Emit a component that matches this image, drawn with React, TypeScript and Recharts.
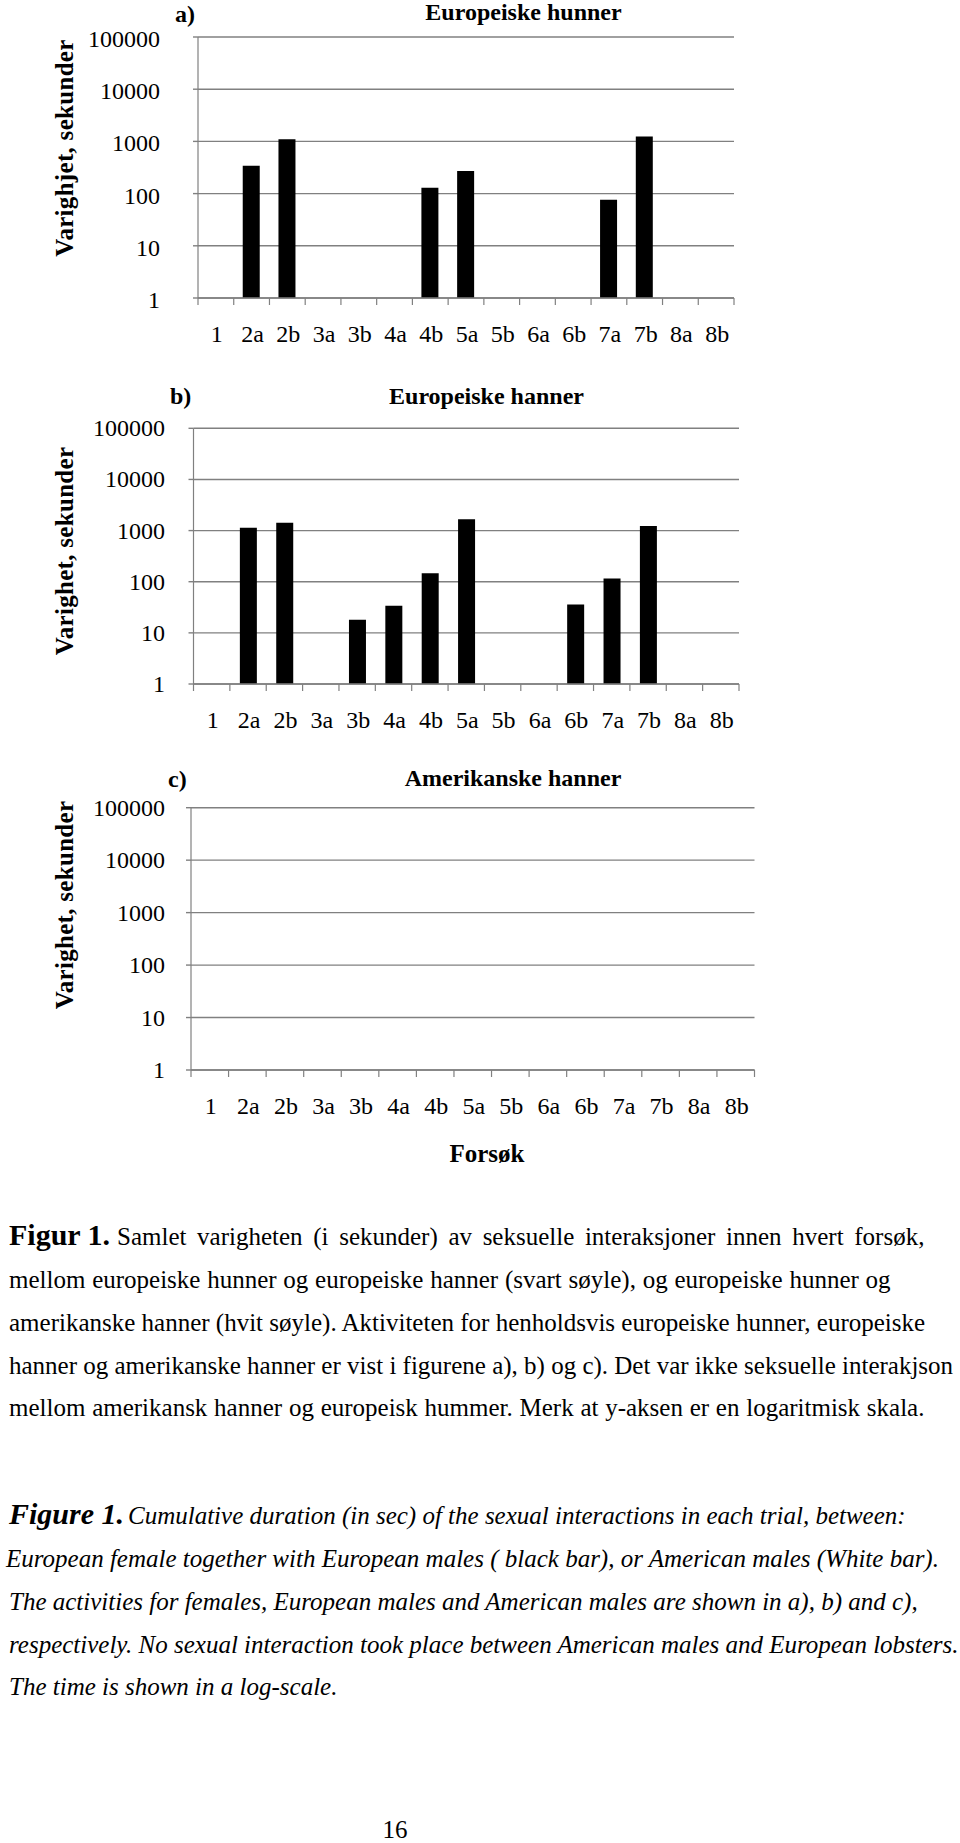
import React from 'react';
import { BarChart, Bar, XAxis, YAxis, CartesianGrid } from 'recharts';

const trials = ['1', '2a', '2b', '3a', '3b', '4a', '4b', '5a', '5b', '6a', '6b', '7a', '7b', '8a', '8b'];
const europeanFemales: (number | null)[] = [null, 340, 1100, null, null, null, 130, 270, null, null, null, 76, 1240, null, null];
const europeanMales: (number | null)[] = [null, 1140, 1430, null, 18, 34, 146, 1660, null, null, 36, 115, 1230, null, null];
const americanMales: (number | null)[] = [null, null, null, null, null, null, null, null, null, null, null, null, null, null, null];
const yTicks = [1, 10, 100, 1000, 10000, 100000];

const FONT = '"Liberation Serif", "Times New Roman", serif';
const GRID = '#808080';

type Panel = {
  values: (number | null)[];
  top: number;
  height: number;
  plotLeft: number;
  plotRight: number;
  plotTop: number;
  plotBottom: number;
  yGap: number;
  yDy: number;
};

const panels: Panel[] = [
  { values: europeanFemales, top: 0, height: 360, plotLeft: 198, plotRight: 734, plotTop: 37, plotBottom: 298, yGap: 38, yDy: 10 },
  { values: europeanMales, top: 370, height: 370, plotLeft: 193.5, plotRight: 739, plotTop: 58.3, plotBottom: 314, yGap: 28.5, yDy: 8 },
  { values: americanMales, top: 750, height: 400, plotLeft: 191, plotRight: 754.5, plotTop: 57.7, plotBottom: 320, yGap: 26, yDy: 8 },
];

function makeXTick(bw: number, n: number) {
  return (props: any) => {
    const { x, y, payload, index } = props;
    const left = x - bw / 2;
    return (
      <g>
        <line x1={left} y1={y} x2={left} y2={y + 7} stroke={GRID} strokeWidth={1.2} />
        {index === n - 1 ? <line x1={x + bw / 2} y1={y} x2={x + bw / 2} y2={y + 7} stroke={GRID} strokeWidth={1.2} /> : null}
        <text x={x + 1} y={y + 44} textAnchor="middle" fontFamily={FONT} fontSize={24} fill="#000">
          {payload.value}
        </text>
      </g>
    );
  };
}

function makeYTick(dy: number) {
  return (props: any) => {
    const { x, y, payload } = props;
    return (
      <text x={x} y={y + dy} textAnchor="end" fontFamily={FONT} fontSize={24} fill="#000">
        {payload.value}
      </text>
    );
  };
}

function PanelChart({ p }: { p: Panel }) {
  const data = trials.map((t, i) => ({ trial: t, value: p.values[i] }));
  const xAxisHeight = p.height - p.plotBottom;
  const bw = (p.plotRight - p.plotLeft) / trials.length;
  return (
    <div style={{ position: 'absolute', left: 0, top: p.top }}>
      <BarChart
        width={960}
        height={p.height}
        data={data}
        margin={{ top: p.plotTop, right: 960 - p.plotRight, bottom: 0, left: 0 }}
        barSize={17}
      >
        <CartesianGrid vertical={false} stroke={GRID} strokeWidth={1.4} />
        <XAxis
          dataKey="trial"
          type="category"
          interval={0}
          height={xAxisHeight}
          tickLine={false}
          tickSize={0}
          tickMargin={0}
          axisLine={{ stroke: GRID, strokeWidth: 1.4 }}
          tick={makeXTick(bw, trials.length)}
        />
        <YAxis
          type="number"
          scale="log"
          domain={[1, 100000]}
          ticks={yTicks}
          interval={0}
          allowDataOverflow
          width={p.plotLeft}
          tickSize={5}
          tickMargin={p.yGap - 5}
          tickLine={{ stroke: GRID, strokeWidth: 1.4 }}
          axisLine={{ stroke: GRID, strokeWidth: 1.2 }}
          tick={makeYTick(p.yDy)}
        />
        <Bar dataKey="value" fill="#000" isAnimationActive={false} />
      </BarChart>
    </div>
  );
}

const titles = [
  { letter: 'a)', lx: 175, ly: 21.5, title: 'Europeiske hunner', tx: 523.5, ty: 20, yLabel: 'Varighjet, sekunder', labelY: 148 },
  { letter: 'b)', lx: 170, ly: 404, title: 'Europeiske hanner', tx: 486.5, ty: 404, yLabel: 'Varighet, sekunder', labelY: 551 },
  { letter: 'c)', lx: 168, ly: 787, title: 'Amerikanske hanner', tx: 513, ty: 786, yLabel: 'Varighet, sekunder', labelY: 905 },
];

const noLines = [
  'Samlet varigheten (i sekunder) av seksuelle interaksjoner innen hvert forsøk,',
  'mellom europeiske hunner og europeiske hanner (svart søyle), og europeiske hunner og',
  'amerikanske hanner (hvit søyle). Aktiviteten for henholdsvis europeiske hunner, europeiske',
  'hanner og amerikanske hanner er vist i figurene a), b) og c). Det var ikke seksuelle interakjson',
  'mellom amerikansk hanner og europeisk hummer. Merk at y-aksen er en logaritmisk skala.',
];
const enLines = [
  'Cumulative duration (in sec) of the sexual interactions in each trial, between:',
  'European female together with European males ( black bar), or American males (White bar).',
  'The activities for females, European males and American males are shown in a), b) and c),',
  'respectively. No sexual interaction took place between American males and European lobsters.',
  'The time is shown in a log-scale.',
];

export default function App() {
  return (
    <div style={{ position: 'absolute', left: 0, top: 0, width: 960, height: 1843, background: '#fff', overflow: 'hidden' }}>
      {panels.map((p, i) => (
        <PanelChart key={i} p={p} />
      ))}
      <svg width={960} height={1843} style={{ position: 'absolute', left: 0, top: 0, pointerEvents: 'none' }}>
        <g fontFamily={FONT} fill="#000">
          {titles.map((t, i) => (
            <g key={i}>
              <text x={t.lx} y={t.ly} fontSize={24} fontWeight="bold">{t.letter}</text>
              <text x={t.tx} y={t.ty} fontSize={24} fontWeight="bold" textAnchor="middle">{t.title}</text>
              <text
                x={64}
                y={t.labelY}
                fontSize={25}
                fontWeight="bold"
                textAnchor="middle"
                dominantBaseline="central"
                letterSpacing={0.3}
                transform={`rotate(-90 64 ${t.labelY})`}
              >
                {t.yLabel}
              </text>
            </g>
          ))}
          <text x={487} y={1162} fontSize={25} fontWeight="bold" textAnchor="middle">Forsøk</text>

          <text x={9} y={1245} fontSize={30} fontWeight="bold">Figur 1.</text>
          <text x={117} y={1245} fontSize={25} style={{ wordSpacing: '4.4px' }}>{noLines[0]}</text>
          {noLines.slice(1).map((l, i) => (
            <text key={i} x={9} y={1288 + i * 42.8} fontSize={25} style={{ wordSpacing: i === 0 || i === 3 ? '0.5px' : '0px' }}>{l}</text>
          ))}

          <text x={9} y={1524} fontSize={30} fontWeight="bold" fontStyle="italic">Figure 1.</text>
          <text x={128} y={1524} fontSize={25} fontStyle="italic">{enLines[0]}</text>
          {enLines.slice(1).map((l, i) => (
            <text key={i} x={i === 0 ? 6 : 9} y={1567 + i * 42.8} fontSize={25} fontStyle="italic">{l}</text>
          ))}

          <text x={395} y={1838} fontSize={25} textAnchor="middle">16</text>
        </g>
      </svg>
    </div>
  );
}
